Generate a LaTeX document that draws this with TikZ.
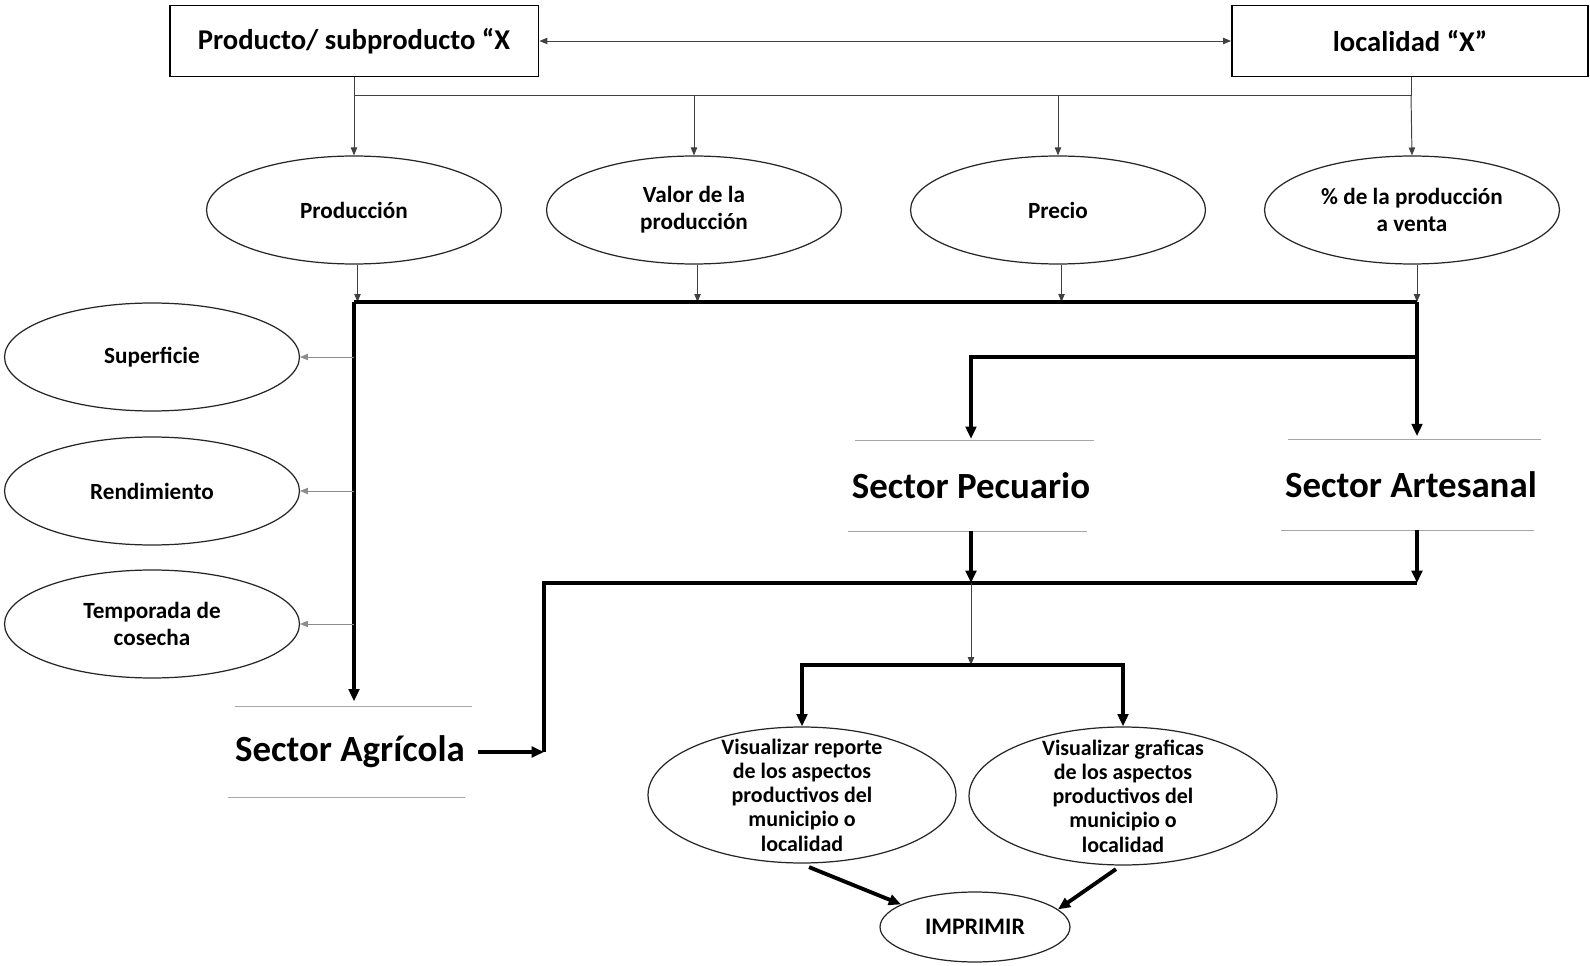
\documentclass[tikz,border=0pt]{standalone}
\usepackage{fontspec}
\setmainfont{Carlito}
\usetikzlibrary{positioning}
\usetikzlibrary{calc}
\usetikzlibrary{arrows.meta}
\usetikzlibrary{shapes.geometric}

\begin{document}
\begin{tikzpicture}[x=0.02cm, y=-0.02cm,
    box/.style={rectangle, draw=black, line width=1.1pt, minimum width=7.38cm, minimum height=1.42cm, font=\bfseries\fontsize{16.3}{18}\selectfont},
    oval/.style={ellipse, draw=black!85, line width=0.7pt, minimum width=5.9cm, minimum height=2.16cm, inner sep=0pt, align=center, font=\bfseries\fontsize{13.2}{15.5}\selectfont},
    big_oval/.style={oval, minimum width=6.16cm, minimum height=2.72cm, inner ysep=-8pt, font=\bfseries\fontsize{12.5}{13.8}\selectfont},
    sector/.style={minimum width=4.74cm, minimum height=1.8cm, inner sep=0pt, font=\bfseries\fontsize{21}{23}\selectfont},
    rule/.style={draw=black!35, line width=0.9pt},
    thin_arrow/.style={draw=black!75, line width=0.55pt, -{Triangle[length=4.5pt, width=3.6pt]}},
    thick_line/.style={draw=black, line width=2.2pt},
    thick_arrow/.style={draw=black, line width=2.2pt, -{Triangle[length=7pt, width=6pt]}}]
    \useasboundingbox (0,0) rectangle (1590,966);

    \node[box] (prod_x) at (354,41) {Producto/ subproducto “X};
    \node[box, minimum width=7.12cm] (loc_x) at (1410,41) {localidad “X”};
    \draw[thin_arrow, {Triangle[length=4.5pt, width=3.6pt]}-{Triangle[length=4.5pt, width=3.6pt]}] (prod_x) -- (loc_x);

    \node[oval] (o_prod) at (354,210) {Producción};
    \node[oval] (o_valor) at (694,210) {Valor de la\\producción};
    \node[oval] (o_precio) at (1058,210) {Precio};
    \node[oval] (o_venta) at (1412,210) {\% de la producción\\a venta};

    \coordinate (top_l) at (354,95);
    \coordinate (top_r) at (1411,95);
    \draw[draw=black!75, line width=0.55pt] (prod_x.south) -- (top_l) -- (top_r) -- (top_r |- loc_x.south);
    \draw[thin_arrow] (top_l) -- (o_prod.north);
    \draw[thin_arrow] (o_valor.north |- top_l) -- (o_valor.north);
    \draw[thin_arrow] (o_precio.north |- top_l) -- (o_precio.north);
    \draw[thin_arrow] (top_r) -- (o_venta.north);

    \coordinate (bus_l) at (354,302);
    \coordinate (bus_r) at (1417,302);
    \coordinate (split) at (1417,357);
    \draw[thin_arrow] ([xshift=2pt]o_prod.south) -- ([xshift=2pt]o_prod.south |- bus_l);
    \draw[thin_arrow] ([xshift=2pt]o_valor.south) -- ([xshift=2pt]o_valor.south |- bus_l);
    \draw[thin_arrow] ([xshift=2pt]o_precio.south) -- ([xshift=2pt]o_precio.south |- bus_l);
    \draw[thin_arrow] (bus_r |- o_venta.south) -- (bus_r);

    \node[oval] (o_sup) at (152,357) {Superficie};
    \node[oval] (o_rend) at (152,491) {Rendimiento};
    \node[oval] (o_temp) at (152,624) {Temporada de\\cosecha};

    \node[sector] (s_agr) at (350,752) {Sector Agrícola};
    \node[sector] (s_pec) at (971,486) {Sector Pecuario};
    \node[sector] (s_art) at (1411,485) {Sector Artesanal};
    \foreach \s in {s_agr, s_pec, s_art} {
        \draw[rule] ([xshift=2pt]\s.north west) -- ([xshift=2pt]\s.north east);
        \draw[rule] ([xshift=-2pt]\s.south west) -- ([xshift=-2pt]\s.south east);
    }

    \draw[thick_line] (bus_r) -- (bus_l);
    \draw[thick_arrow, shorten >=3pt] (bus_l) -- (bus_l |- s_agr.north);
    \draw[thick_arrow, shorten >=2pt] (bus_r) -- (bus_r |- s_art.north);
    \draw[thick_arrow, shorten >=1pt] (split) -| (s_pec.north);
    \foreach \o in {o_sup, o_rend, o_temp}
        \draw[thin_arrow, draw=black!45] (\o.east -| bus_l) -- (\o.east);

    \coordinate (low_l) at (544,583);
    \coordinate (low_r) at (1417,583);
    \coordinate (fork) at (971,665);
    \draw[thick_line] (s_agr.east -| low_l) -- (low_l) -- (low_r);
    \draw[thick_arrow] ([xshift=5pt]s_agr.east) -- (s_agr.east -| low_l);
    \draw[thick_arrow] (s_pec.south) -- (s_pec.south |- low_l);
    \draw[thick_arrow] (s_art.south -| low_r) -- (low_r);
    \draw[thin_arrow] (s_pec.south |- low_l) -- (fork);

    \node[big_oval] (o_rep) at (802,795) {Visualizar reporte\\de los aspectos\\productivos del\\municipio o\\localidad};
    \node[big_oval, minimum height=2.76cm] (o_graf) at (1123,796) {Visualizar graficas\\de los aspectos\\productivos del\\municipio o\\localidad};
    \node[oval, minimum width=3.8cm, minimum height=1.4cm, font=\bfseries\fontsize{13.5}{15}\selectfont] (o_impr) at (975,927) {IMPRIMIR};

    \draw[thick_arrow] (fork) -| (o_rep.north);
    \draw[thick_arrow] (fork) -| (o_graf.north);
    \draw[thick_arrow] ([shift={(4pt,-2pt)}]o_rep.south) -- (o_impr.163);
    \draw[thick_arrow] ([shift={(-4pt,-2pt)}]o_graf.south) -- (o_impr.12);
\end{tikzpicture}
\end{document}
